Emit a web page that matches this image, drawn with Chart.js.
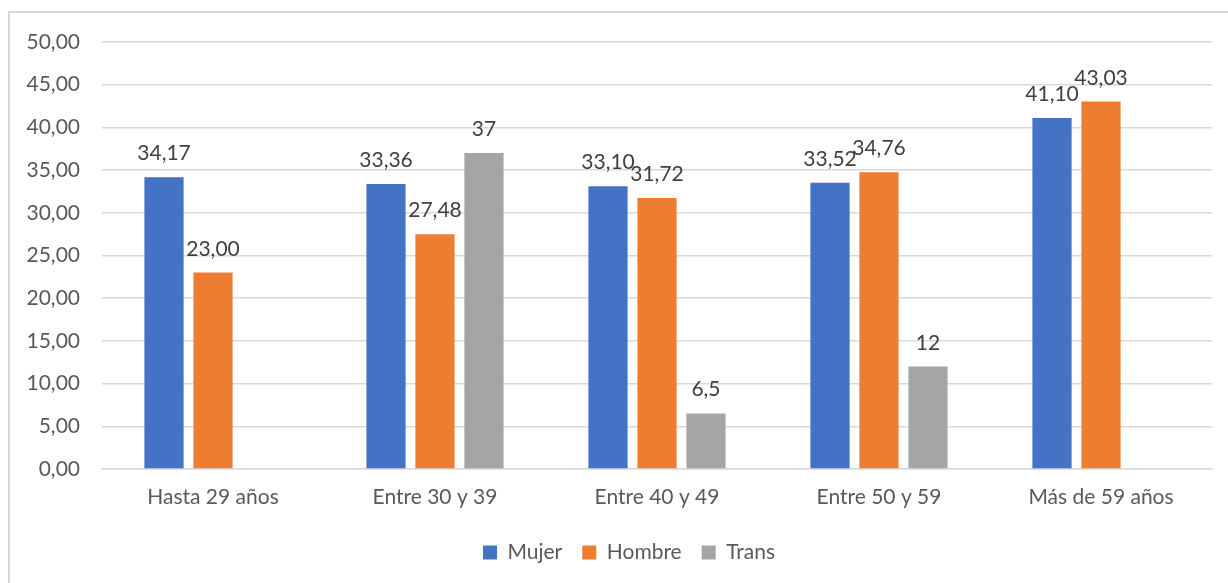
<!DOCTYPE html>
<html>
<head>
<meta charset="utf-8">
<script src="https://cdn.jsdelivr.net/npm/chart.js@4.4.0/dist/chart.umd.min.js"></script>
<style>
  html, body { margin: 0; padding: 0; background: #fff; overflow: hidden; }
  #wrap { position: relative; width: 1228px; height: 583px; }
  #frame { position: absolute; left: 8px; top: 11px; width: 1240px; height: 620px; border: 2px solid #d9d9d9; box-sizing: border-box; pointer-events: none; }
  canvas { position: absolute; left: 0; top: 0; }
</style>
</head>
<body>
<div id="wrap">
  <canvas id="c" width="1228" height="583"></canvas>
  <div id="frame"></div>
</div>
<script>
const categories = ["Hasta 29 años", "Entre 30 y 39", "Entre 40 y 49", "Entre 50 y 59", "Más de 59 años"];
const seriesNames = ["Mujer", "Hombre", "Trans"];
const mujer  = [34.17, 33.36, 33.10, 33.52, 41.10];
const hombre = [23.00, 27.48, 31.72, 34.76, 43.03];
const trans  = [null, 37, 6.5, 12, null];
const labelDecimals = [2, 2, null];
const colors = ["#4472C4", "#ED7D31", "#A5A5A5"];

const FONT = "Lato, 'Open Sans', sans-serif";
const FS = 21;

function fmt(v, dec) {
  const s = dec === null ? String(v) : v.toFixed(dec);
  return s.replace('.', ',');
}

const dataLabels = {
  id: 'dataLabels',
  afterDatasetsDraw(chart) {
    const ctx = chart.ctx;
    ctx.save();
    ctx.font = FS + "px " + FONT;
    ctx.fillStyle = "#404040";
    ctx.textAlign = "center";
    ctx.textBaseline = "alphabetic";
    chart.data.datasets.forEach((ds, di) => {
      const meta = chart.getDatasetMeta(di);
      meta.data.forEach((el, i) => {
        const v = ds.data[i];
        if (v === null || v === undefined) return;
        ctx.fillText(fmt(v, labelDecimals[di]), el.x, el.y - 17);
      });
    });
    ctx.restore();
  }
};

const legendShift = {
  id: 'legendShift',
  afterLayout(chart) {
    if (chart.legend) { chart.legend.left += 23; chart.legend.right += 23; }
  }
};

new Chart(document.getElementById('c'), {
  type: 'bar',
  data: {
    labels: categories,
    datasets: [mujer, hombre, trans].map((d, i) => ({
      label: seriesNames[i],
      data: d,
      backgroundColor: colors[i],
      borderWidth: 0,
      categoryPercentage: 0.662,
      barPercentage: 0.8
    }))
  },
  options: {
    responsive: false,
    animation: false,
    layout: { padding: { left: 0, right: 16, top: 42, bottom: 10 } },
    plugins: {
      tooltip: { enabled: false },
      legend: {
        position: 'bottom',
        labels: {
          boxWidth: 14, boxHeight: 14, padding: 20,
          color: '#595959',
          font: { family: FONT, size: FS }
        }
      }
    },
    scales: {
      x: {
        grid: { display: false, drawTicks: false },
        border: { display: true, color: '#d9d9d9', width: 1.5 },
        ticks: { color: '#595959', font: { family: FONT, size: FS }, padding: 16, maxRotation: 0 },
        afterFit(s) { s.height = 53; }
      },
      y: {
        min: 0, max: 50,
        grid: { color: '#d9d9d9', lineWidth: 1.5, drawTicks: false },
        border: { display: false },
        ticks: {
          stepSize: 5, padding: 22, color: '#595959',
          font: { family: FONT, size: FS },
          callback: v => fmt(v, 2)
        },
        afterFit(s) { s.width = 102; }
      }
    }
  },
  plugins: [dataLabels, legendShift]
});
</script>
</body>
</html>
